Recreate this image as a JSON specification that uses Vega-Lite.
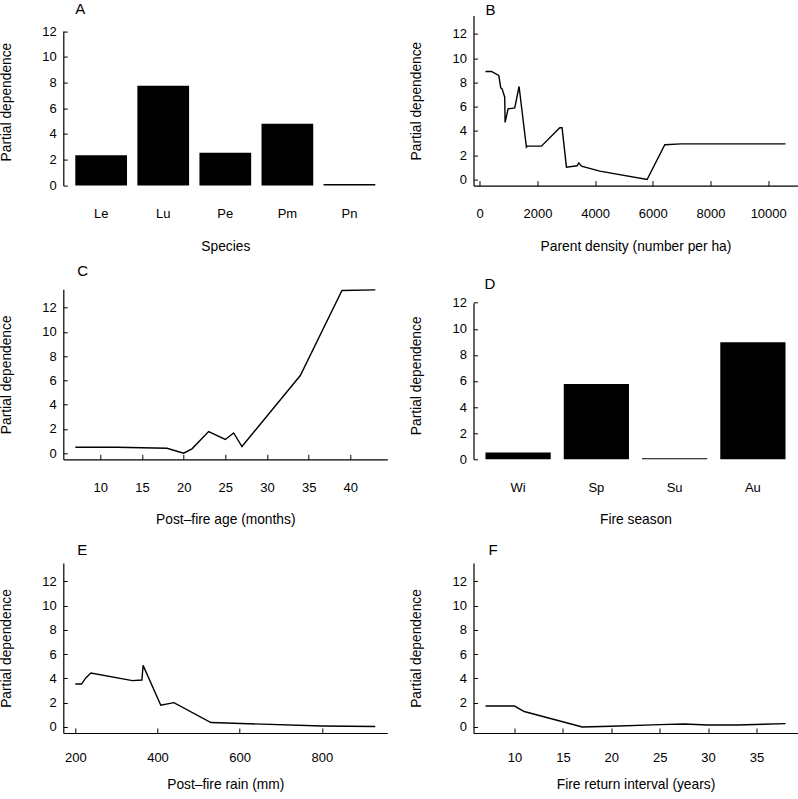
{
  "$schema": "https://vega.github.io/schema/vega-lite/v6.json",
  "padding": {"left": -1.7, "top": 1.6, "right": 0, "bottom": 0},
  "columns": 2,
  "bounds": "flush",
  "spacing": {"row": 103.7, "column": 86.2},
  "datasets": {
    "A": [
      {"species": "Le", "pd": 2.34},
      {"species": "Lu", "pd": 7.75},
      {"species": "Pe", "pd": 2.54},
      {"species": "Pm", "pd": 4.8},
      {"species": "Pn", "pd": 0.1}
    ],
    "B": [
      {"x": 200, "pd": 8.9}, {"x": 405, "pd": 8.9}, {"x": 660, "pd": 8.57}, {"x": 728, "pd": 7.55},
      {"x": 775, "pd": 7.47}, {"x": 867, "pd": 6.78}, {"x": 879, "pd": 4.7}, {"x": 983, "pd": 5.82},
      {"x": 1214, "pd": 5.9}, {"x": 1364, "pd": 7.66}, {"x": 1618, "pd": 2.66}, {"x": 1653, "pd": 2.75},
      {"x": 2139, "pd": 2.75}, {"x": 2775, "pd": 4.26}, {"x": 2855, "pd": 4.26}, {"x": 3006, "pd": 1.02},
      {"x": 3376, "pd": 1.13}, {"x": 3434, "pd": 1.37}, {"x": 3526, "pd": 1.1}, {"x": 4162, "pd": 0.69},
      {"x": 5803, "pd": 0.0}, {"x": 6416, "pd": 2.86}, {"x": 6994, "pd": 2.94}, {"x": 10601, "pd": 2.94}
    ],
    "C": [
      {"x": 7, "pd": 0.49}, {"x": 12, "pd": 0.49}, {"x": 18, "pd": 0.41}, {"x": 20, "pd": 0.0},
      {"x": 21, "pd": 0.36}, {"x": 23, "pd": 1.78}, {"x": 25, "pd": 1.13}, {"x": 26, "pd": 1.67},
      {"x": 27, "pd": 0.55}, {"x": 34, "pd": 6.4}, {"x": 39, "pd": 13.4}, {"x": 43, "pd": 13.45}
    ],
    "D": [
      {"season": "Wi", "pd": 0.52},
      {"season": "Sp", "pd": 5.77},
      {"season": "Su", "pd": 0.08},
      {"season": "Au", "pd": 8.97}
    ],
    "E": [
      {"x": 200, "pd": 3.53}, {"x": 215, "pd": 3.53}, {"x": 226, "pd": 4.06}, {"x": 238, "pd": 4.44},
      {"x": 339, "pd": 3.81}, {"x": 362, "pd": 3.86}, {"x": 365, "pd": 5.07}, {"x": 408, "pd": 1.78},
      {"x": 440, "pd": 2.0}, {"x": 530, "pd": 0.36}, {"x": 800, "pd": 0.08}, {"x": 930, "pd": 0.03}
    ],
    "F": [
      {"x": 7, "pd": 1.72}, {"x": 10, "pd": 1.72}, {"x": 11, "pd": 1.27}, {"x": 17, "pd": 0.0},
      {"x": 20, "pd": 0.05}, {"x": 25, "pd": 0.19}, {"x": 27.5, "pd": 0.24}, {"x": 30, "pd": 0.16},
      {"x": 33, "pd": 0.16}, {"x": 38, "pd": 0.27}
    ]
  },
  "concat": [
    {
      "width": 324, "height": 170,
      "title": {"text": "A", "offset": -1.5, "dx": 12},
      "data": {"name": "A"},
      "mark": {"type": "bar", "color": "black"},
      "encoding": {
        "x": {"field": "species", "type": "nominal",
              "scale": {"paddingInner": 0.1667, "paddingOuter": 0.1933},
              "axis": {"title": "Species", "ticks": false, "domain": false, "labelPadding": 22, "labelAngle": 0}},
        "y": {"field": "pd", "type": "quantitative",
              "scale": {"domain": [0, 12], "range": [169.8, 15.5], "nice": false},
              "axis": {"title": "Partial dependence", "values": [0, 2, 4, 6, 8, 10, 12], "titleY": 86}}
      }
    },
    {
      "width": 324, "height": 170,
      "title": {"text": "B", "offset": -2.2, "dx": 12},
      "data": {"name": "B"},
      "mark": {"type": "line", "color": "black", "strokeWidth": 1.4},
      "encoding": {
        "x": {"field": "x", "type": "quantitative",
              "scale": {"domain": [-216, 11016], "nice": false, "zero": false},
              "axis": {"title": "Parent density (number per ha)", "values": [0, 2000, 4000, 6000, 8000, 10000], "format": "d"}},
        "y": {"field": "pd", "type": "quantitative",
              "scale": {"domain": [-0.5, 13.5], "nice": false, "zero": false},
              "axis": {"title": "Partial dependence", "values": [0, 2, 4, 6, 8, 10, 12]}}
      }
    },
    {
      "width": 324, "height": 170,
      "title": {"text": "C", "offset": 8.2, "dx": 14},
      "data": {"name": "C"},
      "mark": {"type": "line", "color": "black", "strokeWidth": 1.4},
      "encoding": {
        "x": {"field": "x", "type": "quantitative",
              "scale": {"domain": [5.56, 44.44], "nice": false, "zero": false},
              "axis": {"title": "Post–fire age (months)", "values": [10, 15, 20, 25, 30, 35, 40], "format": "d"}},
        "y": {"field": "pd", "type": "quantitative",
              "scale": {"domain": [-0.5, 13.5], "nice": false, "zero": false},
              "axis": {"title": "Partial dependence", "values": [0, 2, 4, 6, 8, 10, 12]}}
      }
    },
    {
      "width": 324, "height": 170,
      "title": {"text": "D", "offset": -2.8, "dx": 11},
      "data": {"name": "D"},
      "mark": {"type": "bar", "color": "black"},
      "encoding": {
        "x": {"field": "season", "type": "nominal", "sort": ["Wi", "Sp", "Su", "Au"],
              "scale": {"paddingInner": 0.1667, "paddingOuter": 0.1533},
              "axis": {"title": "Fire season", "ticks": false, "domain": false, "labelPadding": 22, "labelAngle": 0}},
        "y": {"field": "pd", "type": "quantitative",
              "scale": {"domain": [0, 12], "range": [170, 13.4], "nice": false},
              "axis": {"title": "Partial dependence", "values": [0, 2, 4, 6, 8, 10, 12], "titleY": 86}}
      }
    },
    {
      "width": 324, "height": 170,
      "title": {"text": "E", "offset": 4.6, "dx": 14},
      "data": {"name": "E"},
      "mark": {"type": "line", "color": "black", "strokeWidth": 1.4},
      "encoding": {
        "x": {"field": "x", "type": "quantitative",
              "scale": {"domain": [170.8, 959.2], "nice": false, "zero": false},
              "axis": {"title": "Post–fire rain (mm)", "values": [200, 400, 600, 800], "format": "d", "labelPadding": 24, "titlePadding": 15}},
        "y": {"field": "pd", "type": "quantitative",
              "scale": {"domain": [-0.5, 13.5], "nice": false, "zero": false},
              "axis": {"title": "Partial dependence", "values": [0, 2, 4, 6, 8, 10, 12]}}
      }
    },
    {
      "width": 324, "height": 170,
      "title": {"text": "F", "offset": 5.2, "dx": 15},
      "data": {"name": "F"},
      "mark": {"type": "line", "color": "black", "strokeWidth": 1.4},
      "encoding": {
        "x": {"field": "x", "type": "quantitative",
              "scale": {"domain": [5.76, 39.24], "nice": false, "zero": false},
              "axis": {"title": "Fire return interval (years)", "values": [10, 15, 20, 25, 30, 35], "format": "d", "labelPadding": 24, "titlePadding": 15}},
        "y": {"field": "pd", "type": "quantitative",
              "scale": {"domain": [-0.5, 13.5], "nice": false, "zero": false},
              "axis": {"title": "Partial dependence", "values": [0, 2, 4, 6, 8, 10, 12]}}
      }
    }
  ],
  "config": {
    "view": {"stroke": null},
    "font": "Liberation Sans",
    "title": {"anchor": "start", "frame": "group", "fontSize": 15, "fontWeight": "normal", "baseline": "alphabetic", "color": "black", "font": "Liberation Sans"},
    "axis": {
      "grid": false, "domainColor": "black", "tickColor": "black", "labelColor": "black", "titleColor": "black",
      "labelFont": "Liberation Sans", "titleFont": "Liberation Sans", "labelFontSize": 13, "titleFontSize": 13.8,
      "titleFontWeight": "normal", "labelOverlap": false, "labelFlush": false, "domainWidth": 1.2, "tickWidth": 1
    },
    "axisY": {"tickSize": -4, "labelPadding": 11, "minExtent": 40, "maxExtent": 40, "titlePadding": 10.3},
    "axisX": {"tickSize": -5, "labelPadding": 27, "minExtent": 30, "maxExtent": 30, "titlePadding": 23.7}
  }
}
